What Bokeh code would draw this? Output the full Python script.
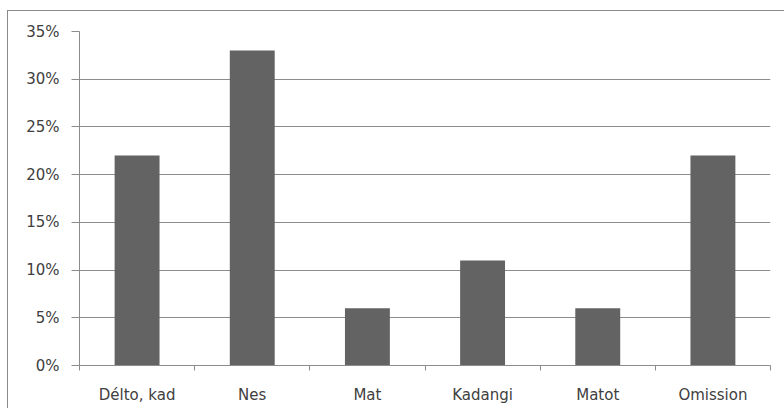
from bokeh.plotting import figure
from bokeh.models import ColumnDataSource, FixedTicker, NumeralTickFormatter, Range1d
from bokeh.embed import file_html
from bokeh.resources import INLINE

categories = ["Délto, kad", "Nes", "Mat", "Kadangi", "Matot", "Omission"]
shares = [0.22, 0.33, 0.06, 0.11, 0.06, 0.22]
y_ticks = [0.0, 0.05, 0.10, 0.15, 0.20, 0.25, 0.30, 0.35]

positions = [i + 0.5 for i in range(len(categories))]
source = ColumnDataSource(data=dict(x=positions, share=shares, name=categories))

FONT = "DejaVu Sans"
TEXT = "#404040"
GRID = "#8c8c8c"

p = figure(width=777, height=398, output_backend="svg", toolbar_location=None,
           x_range=Range1d(0, len(categories)), y_range=Range1d(0, 0.35),
           min_border_left=71, min_border_right=15, min_border_top=20,
           min_border_bottom=44,
           margin=(10, 0, 0, 7),
           styles={"border-top": "1px solid #8a8a8a",
                   "border-left": "1px solid #8a8a8a"})

p.vbar(x="x", top="share", width=0.39, source=source,
       fill_color="#636363", line_color=None)

p.outline_line_color = None
p.background_fill_color = "white"
p.border_fill_color = "white"

# y axis
p.yaxis.ticker = FixedTicker(ticks=y_ticks)
p.yaxis.formatter = NumeralTickFormatter(format="0%")
p.yaxis.axis_line_color = GRID
p.yaxis.major_tick_line_color = GRID
p.yaxis.major_tick_out = 8
p.yaxis.major_tick_in = 0
p.yaxis.minor_tick_line_color = None
p.yaxis.major_label_standoff = 12
p.yaxis.major_label_text_font = FONT
p.yaxis.major_label_text_font_size = "15px"
p.yaxis.major_label_text_color = TEXT

# x axis: labels at bar centres, ticks at category boundaries
p.xaxis.ticker = FixedTicker(ticks=positions,
                             minor_ticks=list(range(len(categories) + 1)))
p.xaxis.major_label_overrides = {pos: name for pos, name in zip(positions, categories)}
p.xaxis.axis_line_color = GRID
p.xaxis.major_tick_line_color = None
p.xaxis.major_tick_out = 0
p.xaxis.major_tick_in = 0
p.xaxis.minor_tick_line_color = GRID
p.xaxis.minor_tick_out = 5
p.xaxis.minor_tick_in = 0
p.xaxis.major_label_standoff = 15
p.xaxis.major_label_text_font = FONT
p.xaxis.major_label_text_font_size = "15px"
p.xaxis.major_label_text_color = TEXT

p.xgrid.grid_line_color = None
p.ygrid.ticker = FixedTicker(ticks=y_ticks)
p.ygrid.grid_line_color = GRID
p.ygrid.grid_line_width = 1.2

open("out.html", "w").write(file_html(p, INLINE))
